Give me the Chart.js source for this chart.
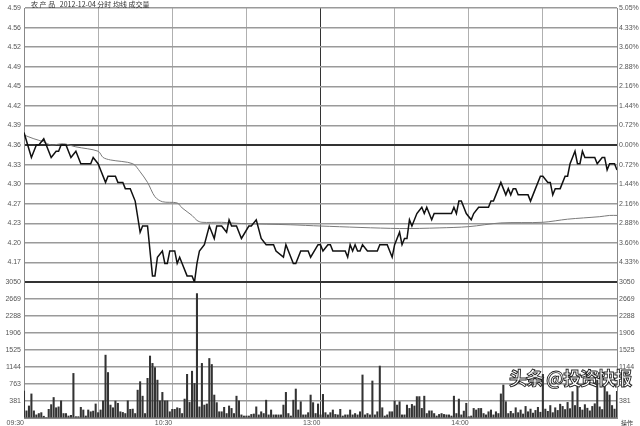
<!DOCTYPE html>
<html><head><meta charset="utf-8">
<script src="https://cdn.jsdelivr.net/npm/chart.js@4/dist/chart.umd.min.js"></script>
<style>
html,body{margin:0;padding:0;background:#fff;}
#wrap{position:relative;width:640px;height:426px;overflow:hidden;}
#c{position:absolute;left:0;top:0;}
#title{position:absolute;left:31px;top:0px;font:7px "Noto Sans CJK SC",sans-serif;color:#333;line-height:8px;white-space:pre;}
#wm{position:absolute;left:509px;top:364px;font:bold 18px "Noto Sans CJK SC",sans-serif;color:#fff;-webkit-text-stroke:0.9px #222;white-space:pre;letter-spacing:-1px;line-height:26px;}
#op{position:absolute;left:621px;top:419px;font:6px "Noto Sans CJK SC",sans-serif;color:#333;line-height:7px;}
</style></head>
<body>
<div id="wrap">
<canvas id="c" width="640" height="426"></canvas>
<div id="title">农 产 品   2012-12-04 分时 均线 成交量</div>
<div id="wm">头条 @投资快报</div>
<div id="op">操作</div>
</div>
<script>
// ---- data ----
const preClose = 4.36;
const priceStep = 0.0314;
const priceTickLabels = ['4.59','4.56','4.52','4.49','4.45','4.42','4.39','4.36','4.33','4.30','4.27','4.23','4.20','4.17'];
const pctTickLabels = ['5.05%','4.33%','3.60%','2.88%','2.16%','1.44%','0.72%','0.00%','0.72%','1.44%','2.16%','2.88%','3.60%','4.33%'];
const volMax = 3050;
const volTickLabels = ['381','763','1144','1525','1906','2288','2669','3050'];
const timeTicks = [0,30,60,90,120,150,180,210,240];
const timeLabels = ['09:30','','10:30','','13:00','','14:00','',''];

const priceMinutes = [0,3,5,6,8,11,13,14,15,17,19,21,23,27,28,30,31,33,34,37,38,40,41,43,45,47,48,50,52,53,54,56,57,58,59,61,62,63,64,66,68,69,70,71,73,75,77,78,80,82,83,84,86,88,91,92,94,96,98,101,102,105,106,109,110,112,115,116,119,120,121,123,124,125,130,131,132,133,134,135,136,137,139,143,144,147,149,150,152,153,154,155,156,157,159,161,162,163,165,166,173,174,175,176,177,179,181,182,184,188,189,190,191,193,194,195,196,197,198,199,200,204,205,207,209,210,212,213,214,215,217,219,220,221,222,223,224,225,226,227,231,232,234,235,236,237,239,240];
const priceValues = [4.38,4.34,4.36,4.36,4.37,4.34,4.35,4.35,4.36,4.36,4.34,4.35,4.33,4.33,4.34,4.33,4.32,4.30,4.31,4.31,4.30,4.30,4.29,4.29,4.27,4.22,4.23,4.23,4.15,4.15,4.18,4.19,4.17,4.17,4.19,4.19,4.17,4.18,4.17,4.15,4.15,4.14,4.17,4.19,4.20,4.23,4.21,4.23,4.23,4.22,4.24,4.23,4.23,4.21,4.23,4.23,4.24,4.21,4.20,4.20,4.19,4.18,4.20,4.17,4.17,4.19,4.19,4.18,4.20,4.20,4.19,4.20,4.20,4.19,4.19,4.18,4.20,4.19,4.20,4.19,4.19,4.20,4.19,4.19,4.20,4.20,4.18,4.20,4.22,4.20,4.21,4.21,4.24,4.23,4.25,4.26,4.25,4.26,4.24,4.25,4.25,4.26,4.25,4.27,4.27,4.25,4.24,4.25,4.26,4.26,4.27,4.27,4.28,4.30,4.29,4.28,4.29,4.28,4.29,4.29,4.28,4.28,4.27,4.29,4.31,4.31,4.30,4.30,4.28,4.29,4.29,4.31,4.31,4.33,4.34,4.35,4.33,4.33,4.35,4.34,4.34,4.33,4.34,4.34,4.32,4.33,4.33,4.32];

const avgMinutes = [0,4,8,11,16,21,30,32,35,44,47,50,53,56,62,64,68,70,72,80,88,108,120,152,168,180,193,210,220,233,237,240];
const avgValues = [4.376,4.370,4.365,4.360,4.362,4.357,4.350,4.340,4.336,4.330,4.317,4.300,4.277,4.269,4.267,4.259,4.247,4.239,4.236,4.236,4.234,4.232,4.230,4.226,4.227,4.229,4.235,4.236,4.241,4.245,4.247,4.247];

const volumes = [605,160,270,540,160,70,100,120,40,0,
195,300,460,230,250,385,100,100,45,60,
1000,30,30,240,180,45,180,140,155,315,
120,180,385,1410,1020,290,230,380,330,140,
125,100,385,195,200,100,625,815,490,100,
890,1390,1225,1130,850,385,575,385,385,140,
195,195,230,215,100,425,980,350,1050,775,
2790,250,1225,290,315,1335,1200,515,345,140,
140,240,100,270,215,100,490,385,70,45,
45,45,80,90,250,70,140,100,400,70,
180,70,70,70,70,290,575,100,45,400,
650,180,365,70,70,120,515,345,100,315,
70,530,120,70,120,180,80,70,195,45,
70,70,180,70,100,70,140,965,70,100,
70,830,70,140,1165,230,45,70,140,140,
380,290,365,70,70,290,215,305,270,480,
480,215,490,100,160,160,100,45,80,100,
80,70,70,45,490,100,425,70,155,330,
30,45,215,180,215,215,100,70,140,180,
70,140,100,540,740,365,100,150,100,230,
120,180,90,260,140,200,110,170,240,130,
980,200,150,280,120,230,170,310,260,190,
350,210,590,280,900,240,180,300,220,160,
260,320,850,250,190,740,590,515,280,200,
600];

// ---- chart ----
const pMin = preClose - 7 * priceStep;
const pMax = preClose + 7 * priceStep;
const priceTickVals = [];
for (let k = -7; k <= 7; k++) priceTickVals.push(preClose + k * priceStep);
const volTickVals = [];
for (let i = 0; i <= 8; i++) volTickVals.push(volMax * i / 8);

const lblFont = {family: '"Liberation Sans", Arial, sans-serif', size: 7};
const lblColor = '#555';

function leftFit(s){ s.width = 24; }
function rightFit(s){ s.width = 23; }

new Chart(document.getElementById('c'), {
  data: {
    datasets: [
      {type:'line', label:'价格', xAxisID:'x', yAxisID:'yPrice',
       data: priceMinutes.map((m,i)=>({x:m, y:priceValues[i]})),
       borderColor:'#111', borderWidth:1.5, pointRadius:0, tension:0, order:1},
      {type:'line', label:'均线', xAxisID:'x', yAxisID:'yPrice',
       data: avgMinutes.map((m,i)=>({x:m, y:avgValues[i]})),
       borderColor:'#7a7a7a', borderWidth:1, pointRadius:0, tension:0.3, order:2},
      {type:'bar', label:'成交量', xAxisID:'x', yAxisID:'yVol',
       data: volumes.map((v,i)=>({x:i, y:v})),
       backgroundColor:'#333', borderWidth:0, barThickness:1.4, order:3}
    ]
  },
  options: {
    responsive:false, animation:false,
    layout:{padding:{top:8,left:0,right:0,bottom:0}},
    plugins:{legend:{display:false}, tooltip:{enabled:false}, title:{display:false}},
    scales:{
      x:{type:'linear', position:'bottom', min:0, max:240, offset:false,
         afterBuildTicks:s=>{ s.ticks = timeTicks.map(v=>({value:v})); },
         afterFit:s=>{ s.height = 8; },
         ticks:{autoSkip:false, maxRotation:0, align:'end', padding:1, font:lblFont, color:lblColor,
                callback:(v,i)=>timeLabels[i]},
         grid:{offset:false, drawTicks:false, color:c=>c.tick && c.tick.value===120 ? '#333' : '#b0b0b0', lineWidth:1},
         border:{color:'#888'}},
      yPrice:{type:'linear', position:'left', stack:'L', stackWeight:274, weight:1,
         min:pMin, max:pMax,
         afterBuildTicks:s=>{ s.ticks = priceTickVals.map(v=>({value:v})); },
         afterFit:leftFit,
         ticks:{autoSkip:false, padding:3, font:lblFont, color:lblColor,
                callback:(v,i)=> i===0 ? '' : priceTickLabels[14 - i]},
         grid:{drawTicks:false,
               color:c=> (c.index===7 || c.index===0) ? '#333' : '#9a9a9a',
               lineWidth:c=> (c.index===7 || c.index===0) ? 2 : 1.5},
         border:{color:'#888'}},
      yVol:{type:'linear', position:'left', stack:'L', stackWeight:136, weight:0,
         min:0, max:volMax,
         afterBuildTicks:s=>{ s.ticks = volTickVals.map(v=>({value:v})); },
         afterFit:leftFit,
         ticks:{autoSkip:false, padding:3, font:lblFont, color:lblColor,
                callback:(v,i)=> i===0 ? '' : volTickLabels[i-1]},
         grid:{drawTicks:false,
               color:c=> c.index===8 ? '#333' : '#9a9a9a',
               lineWidth:c=> c.index===8 ? 2 : 1.5},
         border:{color:'#888'}},
      yPct:{type:'linear', position:'right', stack:'R', stackWeight:274, weight:0,
         min:pMin, max:pMax,
         afterBuildTicks:s=>{ s.ticks = priceTickVals.map(v=>({value:v})); },
         afterFit:rightFit,
         ticks:{autoSkip:false, padding:2, font:lblFont, color:lblColor,
                callback:(v,i)=> i===0 ? '' : pctTickLabels[14 - i]},
         grid:{display:false, drawTicks:false},
         border:{color:'#888'}},
      yVolR:{type:'linear', position:'right', stack:'R', stackWeight:136, weight:1,
         min:0, max:volMax,
         afterBuildTicks:s=>{ s.ticks = volTickVals.map(v=>({value:v})); },
         afterFit:rightFit,
         ticks:{autoSkip:false, padding:2, font:lblFont, color:lblColor,
                callback:(v,i)=> i===0 ? '' : volTickLabels[i-1]},
         grid:{display:false, drawTicks:false},
         border:{color:'#888'}}
    }
  }
});
</script>
</body></html>
